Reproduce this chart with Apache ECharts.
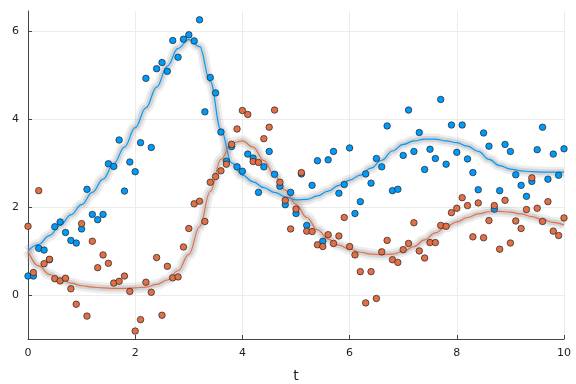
<!DOCTYPE html>
<html><head><meta charset="utf-8">
<script src="https://cdn.jsdelivr.net/npm/echarts@6/dist/echarts.min.js"></script>
<style>html,body{margin:0;padding:0;background:#fff}#c{width:576px;height:384px}</style>
</head><body><div id="c"></div>
<script>
// observation times
const tObs = [0,0.1,0.2,0.3,0.4,0.5,0.6,0.7,0.8,0.9,1,1.1,1.2,1.3,1.4,1.5,1.6,1.7,1.8,1.9,2,2.1,2.2,2.3,2.4,2.5,2.6,2.7,2.8,2.9,3,3.1,3.2,3.3,3.4,3.5,3.6,3.7,3.8,3.9,4,4.1,4.2,4.3,4.4,4.5,4.6,4.7,4.8,4.9,5,5.1,5.2,5.3,5.4,5.5,5.6,5.7,5.8,5.9,6,6.1,6.2,6.3,6.4,6.5,6.6,6.7,6.8,6.9,7,7.1,7.2,7.3,7.4,7.5,7.6,7.7,7.8,7.9,8,8.1,8.2,8.3,8.4,8.5,8.6,8.7,8.8,8.9,9,9.1,9.2,9.3,9.4,9.5,9.6,9.7,9.8,9.9,10];
// noisy observations (prey = blue, predator = orange)
const preyObs = [0.43,0.43,1.06,1.02,0.80,1.55,1.66,1.42,1.24,1.18,1.50,2.40,1.83,1.71,1.83,2.98,2.92,3.52,2.36,3.02,2.80,3.46,4.92,3.35,5.14,5.28,5.08,5.78,5.40,5.81,5.91,5.77,6.25,4.16,4.94,4.59,3.70,3.04,3.37,2.91,2.81,3.20,3.11,2.33,2.91,3.26,2.74,2.47,2.05,2.33,1.85,2.75,1.58,2.49,3.05,1.22,3.07,3.26,2.31,2.51,3.34,1.85,2.12,2.75,2.54,3.10,2.91,3.84,2.37,2.40,3.17,4.20,3.26,3.69,2.85,3.31,3.10,4.44,2.97,3.86,3.24,3.86,3.09,2.78,2.39,3.68,3.38,1.95,2.37,3.42,3.26,2.73,2.49,2.24,2.58,3.30,3.81,2.63,3.20,2.72,3.32];
const predObs = [1.56,0.51,2.37,0.71,0.81,0.37,0.32,0.38,0.14,-0.21,1.62,-0.48,1.22,0.62,0.91,0.72,0.27,0.31,0.43,0.08,-0.82,-0.56,0.29,0.06,0.85,-0.46,0.65,0.39,0.41,1.09,1.51,2.07,2.13,1.67,2.56,2.69,2.82,2.97,3.42,3.77,4.19,4.10,3.03,3.01,3.55,3.81,4.20,2.56,2.15,1.50,1.95,2.78,1.45,1.44,1.14,1.10,1.37,1.17,1.34,1.76,1.10,0.91,0.53,-0.18,0.53,-0.08,0.98,1.24,0.80,0.74,1.03,1.17,1.64,1.00,0.84,1.19,1.19,1.58,1.56,1.87,1.97,2.21,2.03,1.32,2.09,1.30,1.69,2.03,1.04,2.15,1.18,1.68,1.51,1.94,2.66,1.97,1.67,2.12,1.45,1.35,1.75];
// fitted solution curves
const tLine = [0,0.2,0.4,0.6,0.8,1,1.2,1.4,1.6,1.8,2,2.2,2.4,2.6,2.8,3,3.2,3.4,3.6,3.8,4,4.2,4.4,4.6,4.8,5,5.2,5.4,5.6,5.8,6,6.2,6.4,6.6,6.8,7,7.2,7.4,7.6,7.8,8,8.2,8.4,8.6,8.8,9,9.2,9.4,9.6,9.8,10];
const preyLine = [1.00,1.15,1.35,1.58,1.82,2.05,2.33,2.63,2.98,3.36,3.80,4.25,4.72,5.20,5.60,5.80,5.64,4.85,3.75,3.00,2.72,2.57,2.44,2.33,2.23,2.16,2.17,2.25,2.36,2.49,2.61,2.72,2.88,3.06,3.27,3.42,3.50,3.54,3.54,3.50,3.46,3.38,3.26,3.08,2.94,2.86,2.82,2.80,2.79,2.79,2.79];
const predLine = [1.00,0.66,0.47,0.36,0.27,0.21,0.18,0.16,0.15,0.15,0.16,0.18,0.24,0.34,0.55,0.92,1.55,2.35,3.08,3.45,3.50,3.36,3.05,2.72,2.38,2.06,1.76,1.48,1.27,1.13,1.04,0.97,0.93,0.91,0.93,0.99,1.10,1.25,1.41,1.55,1.66,1.76,1.84,1.89,1.90,1.88,1.84,1.78,1.71,1.65,1.59];
const xTicks = [0,2,4,6,8,10];
const yTicks = [0,2,4,6];

const BLUE = '#009AFA', ORANGE = '#E36F47';
const zip = (a, b) => a.map((v, i) => [v, b[i]]);
const chart = echarts.init(document.getElementById('c'), null, {renderer: 'canvas'});
function band(data, w, op) {
  return {type: 'line', data, smooth: 0.4, smoothMonotone: 'x', showSymbol: false, silent: true,
    lineStyle: {color: '#9a9a9a', width: w, opacity: op}, z: 1};
}
const font = {fontFamily: 'DejaVu Sans', fontSize: 11, color: '#222'};
chart.setOption({
  animation: false,
  backgroundColor: '#fff',
  grid: {left: 28, right: 12, top: 11, bottom: 45, outerBoundsMode: 'none', containLabel: false},
  xAxis: {
    type: 'value', min: 0, max: 10, interval: 2,
    name: 't', nameLocation: 'middle', nameGap: 30,
    nameTextStyle: {fontFamily: 'DejaVu Sans', fontSize: 14, color: '#222'},
    axisLine: {onZero: false, lineStyle: {color: '#444', width: 1}},
    axisTick: {inside: true, length: 4, lineStyle: {color: '#444'}, customValues: xTicks},
    axisLabel: Object.assign({margin: 9, customValues: xTicks}, font),
    splitLine: {show: true, lineStyle: {color: '#ececec', width: 1}}
  },
  yAxis: {
    type: 'value', min: -1, max: 6.45,
    axisLine: {show: true, onZero: false, lineStyle: {color: '#444', width: 1}},
    axisTick: {show: true, inside: true, length: 4, lineStyle: {color: '#444'}, customValues: yTicks},
    axisLabel: Object.assign({margin: 9, customValues: yTicks}, font),
    splitLine: {show: true, lineStyle: {color: '#ececec', width: 1}}
  },
  series: [
    band(zip(tLine, preyLine), 11, 0.18),
    band(zip(tLine, predLine), 11, 0.18),
    band(zip(tLine, preyLine), 6, 0.3),
    band(zip(tLine, predLine), 6, 0.3),
    {type: 'line', data: zip(tLine, preyLine), smooth: 0.4, smoothMonotone: 'x', showSymbol: false,
      lineStyle: {color: BLUE, width: 1.2}, z: 3},
    {type: 'line', data: zip(tLine, predLine), smooth: 0.4, smoothMonotone: 'x', showSymbol: false,
      lineStyle: {color: ORANGE, width: 1.2}, z: 3},
    {type: 'scatter', data: zip(tObs, preyObs), symbolSize: 6.5,
      itemStyle: {color: BLUE, borderColor: '#222', borderWidth: 0.7, opacity: 1}, z: 4},
    {type: 'scatter', data: zip(tObs, predObs), symbolSize: 6.5,
      itemStyle: {color: ORANGE, borderColor: '#222', borderWidth: 0.7, opacity: 1}, z: 5}
  ]
});
</script>
</body></html>
